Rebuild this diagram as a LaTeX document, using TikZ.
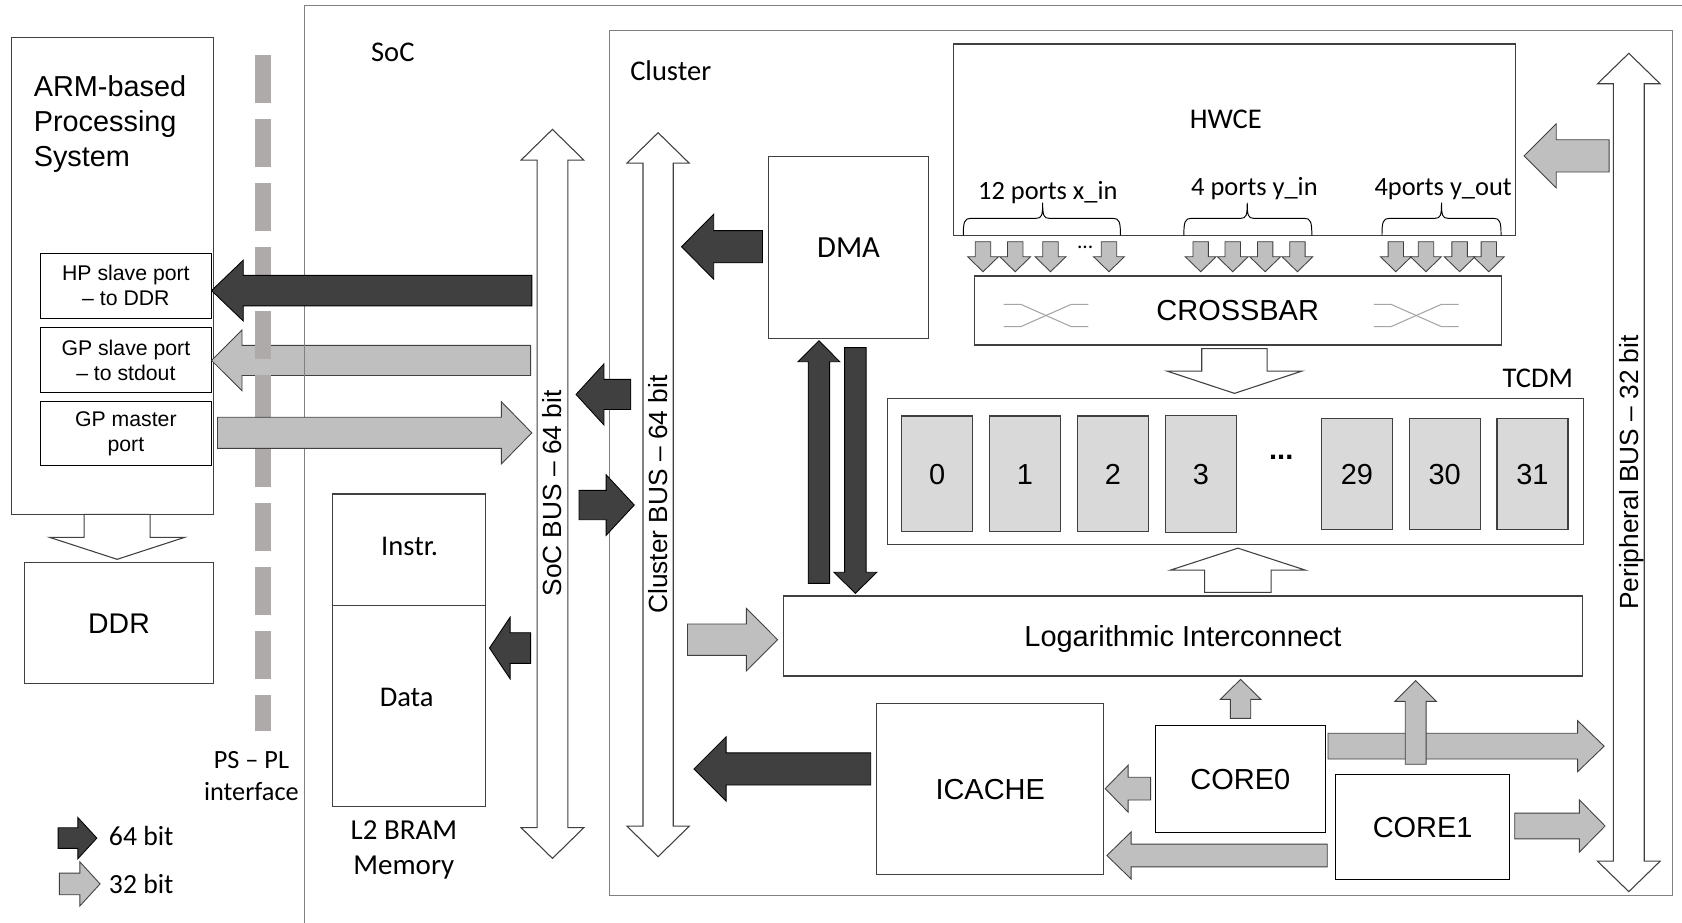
\documentclass[tikz,border=0pt]{standalone}
\usepackage{fontspec}
\setmainfont{Liberation Sans}
\newfontfamily\arl{Liberation Sans}
\newfontfamily\calib{Carlito}
\usetikzlibrary{calc}

\definecolor{darkarrow}{HTML}{404040}
\definecolor{lightarrow}{HTML}{BFBFBF}
\definecolor{bankgray}{HTML}{D9D9D9}
\definecolor{boxline}{HTML}{404040}
\definecolor{frameline}{HTML}{808080}
\definecolor{psplgray}{HTML}{AEAAAA}
\definecolor{xgray}{HTML}{A6A6A6}

\tikzset{
  boxbase/.style={line width=1pt, inner sep=0pt, outer sep=0pt},
  blk/.style={boxbase, draw=boxline, fill=white},
  frm/.style={boxbase, draw=frameline},
  bank/.style={boxbase, draw=boxline, fill=bankgray},
  arialL/.style={font=\arl\fontsize{27}{32}\selectfont, text height=19.3pt, text depth=0pt},
  arialB/.style={font=\arl\fontsize{24.5}{29}\selectfont, text height=17.5pt, text depth=0pt, inner sep=0pt},
  portf/.style={font=\arl\fontsize{19.8}{23.3}\selectfont, align=center},
  calL/.style={font=\calib\fontsize{26.6}{32}\selectfont, text height=17.1pt, text depth=0pt, inner sep=0pt},
  calS/.style={font=\calib\fontsize{24.6}{29.5}\selectfont, text height=15.8pt, text depth=0pt, inner sep=0pt},
  darrow/.style={fill=darkarrow, draw=black, line width=0.8pt},
  larrow/.style={fill=lightarrow, draw=darkarrow, line width=0.8pt},
  harrow/.style={fill=white, draw=darkarrow, line width=1pt},
}

% rectangular block given by its corners: [style]{name}{x1}{y1}{x2}{y2}{text}
\newcommand\boxat[7][]{%
  \node[blk,#1,minimum width={(#5-#3)*1pt},minimum height={(#6-#4)*1pt}]
    (#2) at ({(#3+#5)/2},{(#4+#6)/2}) {#7};}

% block arrow: [style]{tail}{tip}{shaft half width}{head half width}{head length}
\newcommand\barrow[6][]{%
  \coordinate (bt) at (#2);
  \coordinate (bp) at (#3);
  \coordinate (bb) at ($(bp)!#6pt!(bt)$);
  \draw[#1] ($(bt)!#4pt!90:(bp)$) -- ($(bb)!#4pt!90:(bp)$) -- ($(bb)!#5pt!90:(bp)$)
    -- (bp) -- ($(bb)!#5pt!-90:(bp)$) -- ($(bb)!#4pt!-90:(bp)$) -- ($(bt)!#4pt!-90:(bp)$) -- cycle;}

% two-headed bus arrow: [style]{end a}{end b}{shaft half width}{head half width}{head length}
\newcommand\dbarrow[6][]{%
  \coordinate (ea) at (#2);
  \coordinate (eb) at (#3);
  \coordinate (ha) at ($(ea)!#6pt!(eb)$);
  \coordinate (hb) at ($(eb)!#6pt!(ea)$);
  \draw[#1] (ea) -- ($(ha)!#5pt!90:(eb)$) -- ($(ha)!#4pt!90:(eb)$) -- ($(hb)!#4pt!-90:(ea)$)
    -- ($(hb)!#5pt!-90:(ea)$) -- (eb) -- ($(hb)!#5pt!90:(ea)$) -- ($(hb)!#4pt!90:(ea)$)
    -- ($(ha)!#4pt!-90:(eb)$) -- ($(ha)!#5pt!-90:(eb)$) -- cycle;}

% curly brace over a group of ports: {left}{tip}{right}
\newcommand\portbrace[3]{%
  \draw[black, line width=0.9pt] (#1,219.4) .. controls (#1,207) and (#1+1,203.5) .. (#1+7,203.5)
    -- (#2-6,203.5) .. controls (#2-1,203.5) and (#2,201) .. (#2,189)
    .. controls (#2,201) and (#2+1,203.5) .. (#2+6,203.5)
    -- (#3-7,203.5) .. controls (#3-1,203.5) and (#3,207) .. (#3,219.4);}

% crossing-wires glyph inside the crossbar
\newcommand\xglyph[1]{%
  \draw[xgray, line width=1pt] (#1,283.7) -- (#1+16,283.7) -- (#1+63,304.5) -- (#1+79,304.5);
  \draw[xgray, line width=1pt] (#1,304.5) -- (#1+16,304.5) -- (#1+63,283.7) -- (#1+79,283.7);}

\begin{document}
\begin{tikzpicture}[x=1pt,y=-1pt]
\clip (0,0) rectangle (1568,860);
\fill[white] (0,0) rectangle (1568,860);

% ---------- processing system side ----------
\boxat{arm}{11}{34.8}{199}{479.5}{}
\node[font=\arl\fontsize{26.9}{32.7}\selectfont, align=left, anchor=north west, inner sep=0pt]
  (armlbl) at (31.3,70) {ARM-based\\Processing\\System};
\boxat[draw=black,portf]{hp}{37.5}{236.2}{197.2}{296.8}{HP slave port\\– to DDR}
\boxat[draw=black,portf]{gps}{37.5}{305.5}{197.2}{365.7}{GP slave port\\– to stdout}
\boxat[draw=black,portf]{gpm}{37.5}{374.5}{197.2}{434.1}{GP master\\port}
\boxat[font=\arl\fontsize{26.5}{32}\selectfont, text height=19pt, text depth=0pt]{ddr}{22.9}{524.2}{199}{637}{DDR}
\barrow[harrow]{arm.south -| 109.2,0}{109.2,521.4}{30.8}{63}{20.5}

% GP slave port link lies under the PS-PL interface marks
\barrow[larrow]{494.7,336}{gps.east |- 0,336}{14}{28.3}{28.4}

% PS-PL interface
\coordinate (ifT) at (245,51.3);
\coordinate (ifB) at (245,681.5);
\draw[psplgray, line width=14.8pt, dash pattern=on 44.4pt off 15.3pt] (ifT) -- (ifB);
\node[font=\calib\fontsize{24.5}{29.5}\selectfont, align=center, anchor=north, inner sep=0pt]
  (ifl) at (234.4,700.7) {PS – PL\\interface};

% ---------- SoC ----------
\boxat[frm,fill=none]{soc}{283.8}{4.7}{1700}{950}{}
\node[calL] (soclbl) at (366.2,48.5) {SoC};
\boxat{instr}{309.6}{460.5}{452.7}{564.6}{}
\boxat{data}{309.6}{564.6}{452.7}{752}{}
\node[calL] at (381.9,509.2) {Instr.};
\node[calL] at (379.1,649.8) {Data};
\node[font=\calib\fontsize{27}{33.4}\selectfont, align=center, anchor=north, inner sep=0pt]
  (l2lbl) at (376.5,764.4) {L2 BRAM\\Memory};

% ---------- cluster ----------
\boxat[frm,fill=white]{cluster}{568.5}{28}{1559}{834.4}{}
\node[calL] (cllbl) at (625.3,66.5) {Cluster};

\boxat[font=\calib\fontsize{28.6}{34}\selectfont, text height=18.4pt, text depth=0pt]{dma}{716.8}{146}{865.3}{315.4}{DMA}
\boxat{hwce}{889}{41}{1412.8}{219.4}{}
\node[calL] at (1142.7,110.8) {HWCE};
\node[calS] at (976.8,178) {12 ports x\_in};
\node[calS] at (1169.4,174) {4 ports y\_in};
\node[calS] at (1345.3,174) {4ports y\_out};
\portbrace{898}{972}{1044.5}
\portbrace{1103.6}{1162.7}{1222.9}
\portbrace{1288.3}{1343.8}{1399.3}

\boxat[arialL]{xbar}{908.3}{257.3}{1399.3}{321.6}{CROSSBAR}
\xglyph{935.6}
\xglyph{1280.7}

\node[calL] (tcdmlbl) at (1433.6,352.4) {TCDM};
\boxat{tcdm}{827.4}{371.3}{1476}{508}{}
\foreach \n/\xa/\xb/\ya/\yb in {0/840.7/906.6/387.8/495.6, 1/922.2/988.8/387.8/495.6,
    2/1004.5/1070.4/387.8/495.6, 3/1086.5/1152.7/386.9/496.2, 29/1231.9/1298/390/493.2,
    30/1313.7/1379.9/390/493.2, 31/1395.5/1461.7/390/493.2}
  {\boxat[bank,arialL]{bank\n}{\xa}{\ya}{\xb}{\yb}{\n}}
\node[font=\arl\bfseries\fontsize{27}{32}\selectfont, anchor=base, inner sep=0pt] at (1194.4,428.4) {...};

\boxat[arialL]{logic}{730.1}{555.6}{1475.5}{630.2}{Logarithmic Interconnect}
\boxat[arialL]{icache}{817.4}{656}{1028.8}{815.2}{ICACHE}
\boxat[draw=black,arialL]{core0}{1077}{676}{1235.5}{776}{CORE0}
\boxat[draw=black,arialL]{core1}{1245}{721.8}{1407.5}{819.7}{CORE1}

% ---------- buses ----------
\dbarrow[harrow]{515,120.6}{515,800.2}{14.3}{29.2}{28.6}
\node[arialB, rotate=90] (socbus) at (515,460) {SoC BUS – 64 bit};
\dbarrow[harrow]{613.5,123.7}{613.5,798.6}{14.1}{29}{28.4}
\node[arialB, rotate=90] (clbus) at (613.5,461) {Cluster BUS – 64 bit};
\dbarrow[harrow]{1518.4,49.7}{1518.4,831.2}{14.4}{29.2}{28.4}
\node[arialB, rotate=90] (pbus) at (1518.4,440.5) {Peripheral BUS – 32 bit};

% ---------- data paths ----------
\barrow[darrow]{495.8,270.9}{hp.east |- 0,270.9}{14.2}{28.4}{29.6}
\barrow[larrow]{202.7,403.5}{495.8,403.5}{14.5}{29}{28.4}
\barrow[darrow]{588,367.7}{537,367.7}{14}{28.5}{26}
\barrow[darrow]{539.8,470.8}{591.3,470.8}{13.7}{28.3}{26.3}
\barrow[darrow]{494.7,604.1}{456.3,604.1}{14.3}{28.7}{19.2}
\barrow[darrow]{710.8,230}{635.3,230}{15}{30.3}{30}
\barrow[darrow]{763.4,543.8}{763.4,317.6}{10}{19.5}{19.6}
\barrow[darrow]{797.4,324.1}{797.4,553.1}{10}{20}{19.6}
\barrow[larrow]{640.9,596.3}{724.8,596.3}{14.6}{29.2}{29}
\barrow[darrow]{811.7,716.8}{646.9,716.8}{15}{30}{30}
\barrow[larrow]{1500,145.3}{1420.7,145.3}{15}{29.8}{30}

\foreach \x in {916.4,946.4,979.3,1033.8,1119.3,1149.2,1179.4,1209.5,1301.2,1329.3,1360.7,1387.9}
  {\barrow[larrow]{\x,225.3}{\x,253.3}{7.2}{14.4}{14}}
\node[font=\calib\fontsize{20}{24}\selectfont, anchor=base, inner sep=0pt] at (1011.6,232) {...};

\barrow[harrow]{1150.8,325}{1150.8,366.7}{30.5}{63}{20.8}
\barrow[harrow]{1154,552.2}{1154,511}{31}{63}{20.5}

\barrow[larrow]{1156.5,669.7}{1156.5,633.3}{9.5}{19}{18.7}
\barrow[larrow]{1238,695.6}{1495.4,695.6}{12}{23.8}{24.7}
\barrow[larrow]{1319.7,712.5}{1319.7,634.5}{9.7}{19.3}{19.3}
\barrow[larrow]{1412,770}{1496.3,770}{12}{24.4}{24}
\barrow[larrow]{1072.6,735.2}{1030.3,735.2}{10.6}{21.9}{21.4}
\barrow[larrow]{1237.3,797.5}{1031.9,797.5}{10.6}{21.9}{22.5}

% ---------- legend ----------
\barrow[darrow]{54.2,781.3}{90.3,781.3}{9.6}{19.2}{17.7}
\barrow[larrow]{55.3,824}{93.3,824}{10.1}{20.5}{18.8}
\node[font=\calib\fontsize{25.8}{31}\selectfont, text height=16.6pt, text depth=0pt, anchor=west, inner sep=0pt] at (101.4,780) {64 bit};
\node[font=\calib\fontsize{25.8}{31}\selectfont, text height=16.6pt, text depth=0pt, anchor=west, inner sep=0pt] at (101.4,824.2) {32 bit};
\end{tikzpicture}
\end{document}
